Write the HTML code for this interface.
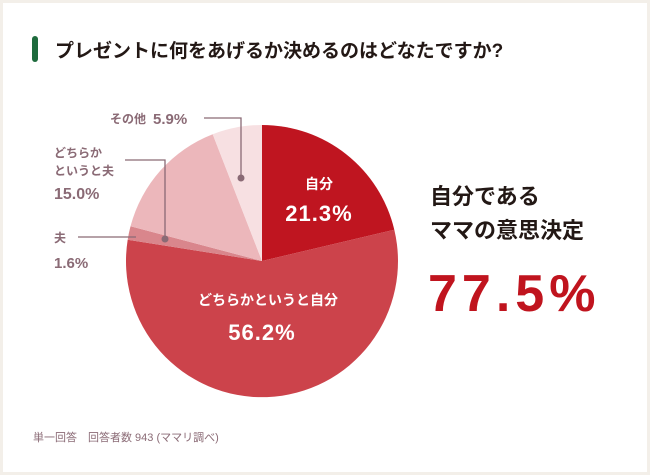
<!DOCTYPE html>
<html><head><meta charset="utf-8"><style>
html,body{margin:0;padding:0;width:650px;height:475px;overflow:hidden;background:#f3efe9;}
svg{display:block;font-family:"Liberation Sans","Noto Sans CJK JP",sans-serif;}
</style></head><body>
<svg width="650" height="475" viewBox="0 0 650 475">
<rect x="3" y="3" width="644" height="469" fill="#fff"/>
<rect x="32" y="36" width="6" height="26" rx="3" fill="#1e6b3d"/>
<text x="55" y="57" font-size="19" font-weight="bold" fill="#231815">プレゼントに何をあげるか決めるのはどなたですか?</text>
<g transform="translate(262,261)">
<path d="M0,0 L0,-136 A136,136 0 0 1 132.3,-31.3 Z" fill="#bf1520"/>
<path d="M0,0 L132.3,-31.3 A136,136 0 1 1 -134.3,-21.3 Z" fill="#cc434b"/>
<path d="M0,0 L-134.3,-21.3 A136,136 0 0 1 -131.5,-34.7 Z" fill="#d9868c"/>
<path d="M0,0 L-131.5,-34.7 A136,136 0 0 1 -49.3,-126.8 Z" fill="#ecb7bb"/>
<path d="M0,0 L-49.3,-126.8 A136,136 0 0 1 0,-136 Z" fill="#f7e0e2"/>
</g>
<g stroke="#8a6a75" stroke-width="1.3" fill="none">
<polyline points="204,118 241,118 241,178"/>
<polyline points="125,160 165,160 165,239"/>
<polyline points="78,237 136,237"/>
</g>
<g fill="#8a6a75">
<circle cx="241" cy="178" r="3.5"/><circle cx="165" cy="239" r="3.5"/>
<text x="110" y="123" font-size="12" font-weight="bold">その他</text>
<text x="153" y="124" font-size="15" font-weight="bold">5.9%</text>
<text x="54" y="157" font-size="12" font-weight="bold">どちらか</text>
<text x="54" y="175" font-size="12" font-weight="bold">というと夫</text>
<text x="54" y="199" font-size="16" font-weight="bold">15.0%</text>
<text x="54" y="242" font-size="12" font-weight="bold">夫</text>
<text x="54" y="268" font-size="15" font-weight="bold">1.6%</text>
<text x="33" y="441" font-size="11">単一回答　回答者数 943 (ママリ調べ)</text>
</g>
<g fill="#fff" font-weight="bold" text-anchor="middle">
<text x="319" y="189" font-size="14">自分</text>
<text x="319" y="221" font-size="22" letter-spacing="1">21.3%</text>
<text x="268" y="305" font-size="14">どちらかというと自分</text>
<text x="262" y="340" font-size="22" letter-spacing="1">56.2%</text>
</g>
<text x="430" y="204" font-size="22" font-weight="bold" fill="#231815">自分である</text>
<text x="430" y="238" font-size="22" font-weight="bold" fill="#231815">ママの意思決定</text>
<text x="428" y="311" font-size="52" font-weight="bold" fill="#c0141e" letter-spacing="5">77.5%</text>
</svg>
</body></html>
